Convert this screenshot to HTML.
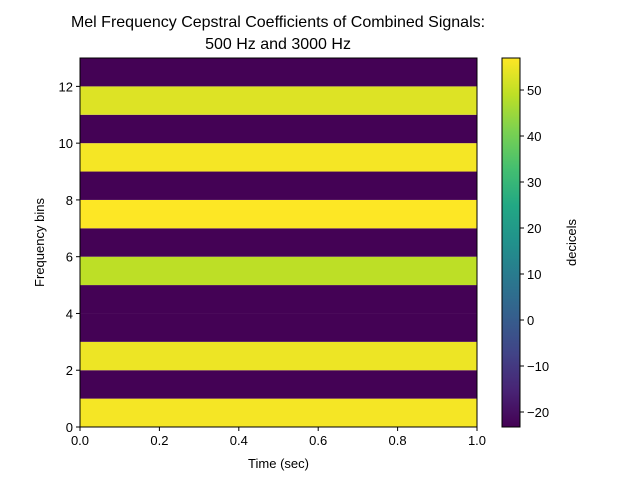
<!DOCTYPE html>
<html><head><meta charset="utf-8"><style>
body{margin:0;background:#fff;}
svg{display:block;font-family:"Liberation Sans","DejaVu Sans",sans-serif;}
</style></head><body>
<svg id="chart" width="640" height="480">
<defs>
<linearGradient id="vir" x1="0" y1="1" x2="0" y2="0">
<stop offset="0" stop-color="#440154"/><stop offset="0.1" stop-color="#482475"/><stop offset="0.2" stop-color="#414487"/><stop offset="0.3" stop-color="#355f8d"/><stop offset="0.4" stop-color="#2a788e"/><stop offset="0.5" stop-color="#21918c"/><stop offset="0.6" stop-color="#22a884"/><stop offset="0.7" stop-color="#44bf70"/><stop offset="0.8" stop-color="#7ad151"/><stop offset="0.9" stop-color="#bddf26"/><stop offset="1" stop-color="#fde725"/>
</linearGradient>
</defs>
<text x="278" y="27" text-anchor="middle" font-size="16">Mel Frequency Cepstral Coefficients of Combined Signals:</text>
<text x="278" y="49" text-anchor="middle" font-size="16">500 Hz and 3000 Hz</text>
<g id="cells"></g><g id="axes"></g>
</svg>
<script>
const rowValues = [56, -23, 55, -23, -23, 49, -23, 57, -23, 56, -23, 53, -23];
const xTicks = [0.0, 0.2, 0.4, 0.6, 0.8, 1.0];
const yTicks = [0, 2, 4, 6, 8, 10, 12];
const cbTicks = [-20, -10, 0, 10, 20, 30, 40, 50];
const vmin = -23.26, vmax = 56.96;

const NS = "http://www.w3.org/2000/svg";
const svg = document.getElementById('chart');
const cells = document.getElementById('cells');
const axes = document.getElementById('axes');
const L=80, R=477, T=58, B=427;
const xs = v => L + (v/1.0)*(R-L);
const ys = v => B - (v/13)*(B-T);
const CBL=502, CBR=520;
const cs = v => B - (v-vmin)/(vmax-vmin)*(B-T);
const stops = ["#440154","#482475","#414487","#355f8d","#2a788e","#21918c","#22a884","#44bf70","#7ad151","#bddf26","#fde725"];
function hex(h){return [1,3,5].map(i=>parseInt(h.substr(i,2),16));}
function viridis(t){t=Math.max(0,Math.min(1,t));const p=t*10,i=Math.min(9,Math.floor(p)),f=p-i;const a=hex(stops[i]),b=hex(stops[i+1]);return 'rgb('+a.map((c,k)=>Math.round(c+(b[k]-c)*f)).join(',')+')';}
function mk(tag, attrs, parent){const e=document.createElementNS(NS,tag);for(const k in attrs)e.setAttribute(k,attrs[k]);parent.appendChild(e);return e;}

rowValues.forEach((v,i)=>{
  const r = mk('rect',{x:xs(0),y:ys(i+1),width:xs(1)-xs(0),height:ys(i)-ys(i+1),fill:viridis((v-vmin)/(vmax-vmin))},cells);
  
  
});
const frame = mk('rect',{x:L,y:T,width:R-L,height:B-T,fill:'none',stroke:'#000','stroke-width':1},axes);



xTicks.forEach(v=>{
  mk('line',{x1:xs(v),x2:xs(v),y1:B,y2:B+4,stroke:'#000'},axes);
  const t=mk('text',{x:xs(v),y:B+18,'text-anchor':'middle','font-size':13},axes);
  t.textContent=v.toFixed(1);
  
  
});
yTicks.forEach(v=>{
  mk('line',{x1:L-4,x2:L,y1:ys(v),y2:ys(v),stroke:'#000'},axes);
  const t=mk('text',{x:L-7,y:ys(v)+5,'text-anchor':'end','font-size':13},axes);
  t.textContent=v;
  
  
});
const xl=mk('text',{x:(L+R)/2,y:468,'text-anchor':'middle','font-size':13},axes);
xl.textContent='Time (sec)';


const yl=mk('text',{x:44,y:(T+B)/2,'text-anchor':'middle','font-size':13,transform:'rotate(-90 44 '+(T+B)/2+')'},axes);
yl.textContent='Frequency bins';



const cb=mk('rect',{x:CBL,y:T,width:CBR-CBL,height:B-T,fill:'url(#vir)',stroke:'#000','stroke-width':1},axes);


cbTicks.forEach(v=>{
  mk('line',{x1:CBR,x2:CBR+4,y1:cs(v),y2:cs(v),stroke:'#000'},axes);
  const t=mk('text',{x:CBR+7,y:cs(v)+5,'font-size':13},axes);
  t.textContent=v<0?'\u2212'+Math.abs(v):v;
  
  
});
const cl=mk('text',{x:576,y:(T+B)/2,'text-anchor':'middle','font-size':13,transform:'rotate(-90 576 '+(T+B)/2+')'},axes);
cl.textContent='decicels';


</script>
</body></html>
